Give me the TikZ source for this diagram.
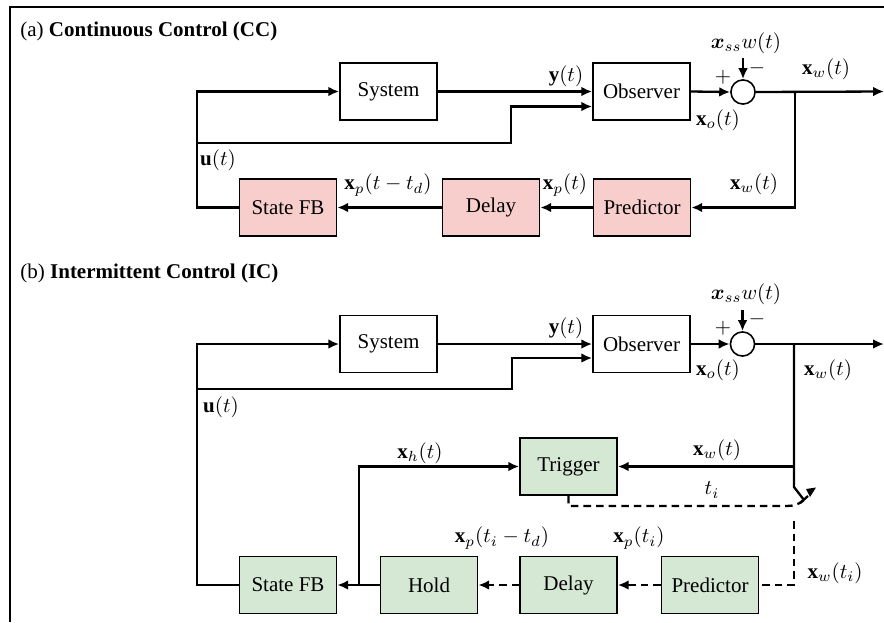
\documentclass[tikz,border=0pt]{standalone}
\usepackage{amsmath,bm}
\usepackage{fontspec}
\setmainfont{Liberation Serif}
\usetikzlibrary{arrows.meta,calc}
\definecolor{pinkfill}{RGB}{248,206,204}
\definecolor{greenfill}{RGB}{213,232,212}
\tikzset{
  blk/.style={draw, line width=0.75pt, minimum width=46.2pt, minimum height=27.1pt, inner sep=1pt, font=\fontsize{10}{12}\selectfont},
  pinkblk/.style={blk, fill=pinkfill},
  greenblk/.style={blk, fill=greenfill},
  sumnode/.style={draw, circle, line width=0.75pt, minimum size=11.5pt, inner sep=0pt},
  wire/.style={line width=1.1pt},
  arr/.style={wire, -{Latex[length=5.2pt,width=4.6pt]}},
  dsh/.style={wire, dash pattern=on 3.6pt off 2.4pt},
  darr/.style={dsh, -{Latex[length=5.2pt,width=4.6pt]}},
  lbl/.style={inner sep=0pt, font=\fontsize{10}{12}\selectfont},
}
\begin{document}
\begin{tikzpicture}[x=0.4762pt,y=-0.4762pt]
\useasboundingbox (0,0) rectangle (884,622);
% frame
\draw[line width=1.4pt] (10,622) -- (10,7) -- (884,7);

% ================= (a) =================
\node[lbl, anchor=base west] (titleA) at (20,36) {(a) \textbf{Continuous Control (CC)}};
\node[blk] (sysA) at (388.5,91.5) {System};
\node[blk] (obsA) at (641.5,91.5) {Observer};
\node[sumnode] (sumA) at (743,92) {};
\node[pinkblk] (predA) at (642,207.5) {Predictor};
\node[pinkblk] (delA) at (491,207.5) {Delay};
\node[pinkblk] (sfbA) at (288,207.5) {State FB};

\coordinate (jA) at (198,143);
\coordinate (brA) at (795,91.5);
\coordinate (outA) at (884,91.5);
\coordinate (refA) at (743,58);

\draw[arr] (sfbA.west) -- ++(-42,0) |- (sysA.west);
\draw[arr] (jA) -- (511,143) |- ($(obsA.west)+(0,15)$);
\draw[arr] (sysA.east) -- (obsA.west);
\draw[arr] (obsA.east) -- (sumA.west);
\draw[arr] (refA) -- (sumA.north);
\draw[arr] (sumA.east) -- (outA);
\draw[arr] (brA) |- (predA.east);
\draw[arr] (predA.west) -- (delA.east);
\draw[arr] (delA.west) -- (sfbA.east);

\node[lbl] (yA) at (566,76) {$\mathbf{y}(t)$};
\node[lbl] (xoA) at (718,120) {$\mathbf{x}_o(t)$};
\node[lbl] (xssA) at (746,43) {$\bm{x}_{ss}w(t)$};
\node[lbl] (plusA) at (723,77) {$+$};
\node[lbl] (minusA) at (757,68) {$-$};
\node[lbl] (xwA) at (826,69) {$\mathbf{x}_w(t)$};
\node[lbl] (xwA2) at (754,184) {$\mathbf{x}_w(t)$};
\node[lbl] (xpA) at (565,185) {$\mathbf{x}_p(t)$};
\node[lbl] (xpdA) at (388,185) {$\mathbf{x}_p(t-t_d)$};
\node[lbl] (uA) at (218,160) {$\mathbf{u}(t)$};

% ================= (b) =================
\node[lbl, anchor=base west] (titleB) at (20,278) {(b) \textbf{Intermittent Control (IC)}};
\node[blk] (sysB) at (388.5,344) {System};
\node[blk] (obsB) at (641.5,344) {Observer};
\node[sumnode] (sumB) at (742.5,344) {};
\node[greenblk] (trig) at (568.5,466.5) {Trigger};
\node[greenblk] (sfbB) at (288,585) {State FB};
\node[greenblk] (hold) at (429,585) {Hold};
\node[greenblk] (delB) at (568.5,585) {Delay};
\node[greenblk] (predB) at (710,585) {Predictor};

\coordinate (jB) at (198,389);
\coordinate (brB) at (794,344);
\coordinate (outB) at (884,344);
\coordinate (refB) at (742.5,310);
\coordinate (brH) at (359,585);
\coordinate (swTop) at (794,487);
\coordinate (swEnd) at (804,500);
\coordinate (dashIn) at (794,521);

\draw[arr] (sfbB.west) -- ++(-42,0) |- (sysB.west);
\draw[arr] (jB) -- (512,389) |- ($(obsB.west)+(0,14)$);
\draw[arr] (sysB.east) -- (obsB.west);
\draw[arr] (obsB.east) -- (sumB.west);
\draw[arr] (refB) -- (sumB.north);
\draw[arr] (sumB.east) -- (outB);
\draw[wire] (brB) -- (swTop) -- (swEnd);
\draw[wire] (800,503) -- (808,496);
\fill (806,489) -- (816,487.5) -- (810,497) -- cycle;
\draw[arr] (brB |- trig.east) -- (trig.east);
\draw[dsh] (trig.south) |- (786,506) to[out=0,in=-140] (swEnd);
\draw[dsh] (dashIn) |- (predB.east);
\draw[darr] (predB.west) -- (delB.east);
\draw[darr] (delB.west) -- (hold.east);
\draw[arr] (hold.west) -- (sfbB.east);
\draw[arr] (brH) |- (trig.west);

\node[lbl] (yB) at (566,328) {$\mathbf{y}(t)$};
\node[lbl] (xoB) at (718,370) {$\mathbf{x}_o(t)$};
\node[lbl] (xssB) at (746,294) {$\bm{x}_{ss}w(t)$};
\node[lbl] (plusB) at (723,328) {$+$};
\node[lbl] (minusB) at (757,319) {$-$};
\node[lbl] (xwB) at (828,370) {$\mathbf{x}_w(t)$};
\node[lbl] (xwB2) at (717,450) {$\mathbf{x}_w(t)$};
\node[lbl] (tiB) at (712,490) {$t_i$};
\node[lbl] (xhB) at (420,453) {$\mathbf{x}_h(t)$};
\node[lbl] (xpdB) at (502,538) {$\mathbf{x}_p(t_i-t_d)$};
\node[lbl] (xpB) at (639,538) {$\mathbf{x}_p(t_i)$};
\node[lbl] (xwtiB) at (835,573) {$\mathbf{x}_w(t_i)$};
\node[lbl] (uB) at (221,407) {$\mathbf{u}(t)$};
\end{tikzpicture}
\end{document}
